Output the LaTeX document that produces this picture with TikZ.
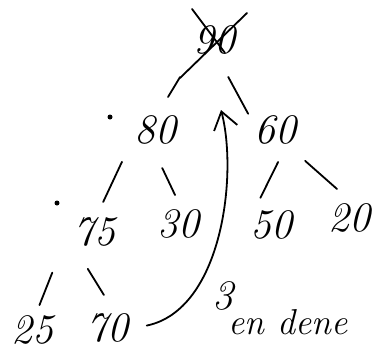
\documentclass[tikz,border=0pt]{standalone}
\usepackage{fontspec}
\usepackage{tikz}
\usetikzlibrary{arrows.meta, positioning}

\begin{document}
\begin{tikzpicture}[
    x=1pt, y=-1pt, on grid,
    key/.style={circle, inner sep=0pt, outer sep=0pt, minimum size=56pt, font=\fontsize{42}{48}\selectfont\itshape},
    note/.style={inner sep=0pt, font=\fontsize{36}{42}\selectfont\itshape},
    dotmark/.style={circle, fill, inner sep=0pt, minimum size=5pt},
    branch/.style={line width=1.8pt, line cap=round},
    arrow/.style={line width=1.8pt, line cap=round, -{Straight Barb[length=17pt, width=24pt]}}
]
    \useasboundingbox (0,0) rectangle (377,359);

    \node[key] (n90) at (214,40) {90};
    \node[key, below left=90pt and 59pt of n90] (n80) {80};
    \node[key, below right=90pt and 61pt of n90] (n60) {60};
    \node[key, below left=102pt and 61pt of n80] (n75) {75};
    \node[key, below right=94pt and 23pt of n80] (n30) {30};
    \node[key, below left=95pt and 4pt of n60] (n50) {50};
    \node[key, below right=88pt and 74pt of n60] (n20) {20};
    \node[key, below left=98pt and 62pt of n75] (n25) {25};
    \node[key, below right=96pt and 13pt of n75] (n70) {70};
    \node[note, right=181pt of n70, yshift=6pt] (done) {en dene};
    \node[key, above right=32pt and 116pt of n70] (step3) {3};
    \node[dotmark, above left=13pt and 45pt of n80] (dot80) {};
    \node[dotmark, above left=29pt and 37pt of n75] (dot75) {};
    \coordinate (tip) at (221,110);

    % crossed-out root
    \draw[branch] ([shift={(-22,-31)}]n90.center) -- ([shift={(11,13)}]n90.center);
    \draw[branch] ([shift={(-34,38)}]n90.center) -- ([shift={(33,-27)}]n90.center);

    \draw[branch, shorten <=23.1pt, shorten >=7.6pt] (n90.218) -- (n80.71);
    \draw[branch, shorten <=11.7pt, shorten >=4pt] (n90.-72.5) -- (n60.153.7);
    \draw[branch, shorten <=20.1pt, shorten >=3.4pt] (n80.209.5) -- (n75.74.3);
    \draw[branch, shorten <=11.2pt, shorten >=1.2pt] (n80.-85.7) -- (n30.95);
    \draw[branch, shorten <=5pt, shorten >=1.8pt] (n60.-79.3) -- (n50.114.9);
    \draw[branch, shorten <=15.2pt, shorten >=3.8pt] (n60.-48.5) -- (n20.109);
    \draw[branch, shorten <=38.5pt, shorten >=-2pt] (n75.190.9) -- (n25.73.8);
    \draw[branch, shorten <=14.8pt, shorten >=5.9pt] (n75.240.5) -- (n70.90);

    \draw[arrow, shorten <=12pt] (n70.east) .. controls (222,310) and (238,175) .. (tip);
\end{tikzpicture}
\end{document}
